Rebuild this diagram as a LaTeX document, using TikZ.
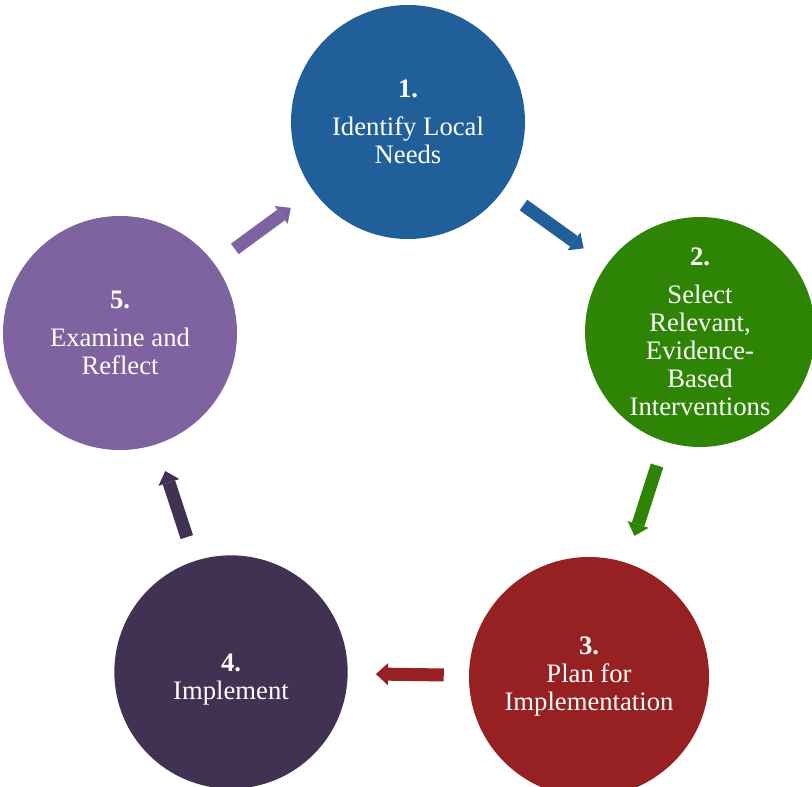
\documentclass[tikz,border=0pt]{standalone}
\usepackage{fontspec}
\setmainfont{Liberation Serif}
\usetikzlibrary{arrows.meta}
\definecolor{needsblue}{HTML}{215F9A}
\definecolor{selectgreen}{HTML}{2E8505}
\definecolor{planred}{HTML}{962022}
\definecolor{implpurple}{HTML}{413152}
\definecolor{reflectlilac}{HTML}{7F63A1}
\begin{document}
\begin{tikzpicture}[x=0.75pt,y=-0.75pt,
  stage/.style={circle, inner sep=0pt, text=white, align=center,
    font=\fontsize{20}{21}\selectfont},
  flow/.style={line width=9.75pt, shorten <=18.75pt, shorten >=21pt,
    -{Triangle[length=9pt,width=16.5pt,line width=0pt]}}]
\useasboundingbox (0,0) rectangle (812,787);
\clip (0,0) rectangle (812,787);
\node[stage, fill=needsblue, minimum size=175.5pt] (1) at (408,122) {\textbf{1.}\\[7.5pt]Identify Local\\Needs};
\node[stage, fill=selectgreen, minimum size=172.5pt] (2) at (700,332) {\textbf{2.}\\[7.5pt]Select\\Relevant,\\Evidence-\\Based\\Interventions};
\node[stage, fill=planred, minimum size=180pt] (3) at (589,677) {\textbf{3.}\\Plan for\\Implementation};
\node[stage, fill=implpurple, minimum size=175pt] (4) at (231,672) {\rule{0pt}{25pt}\textbf{4.}\\Implement};
\node[stage, fill=reflectlilac, minimum size=175.5pt] (5) at (120,333) {\textbf{5.}\\[7.5pt]Examine and\\Reflect};

\path[draw,flow,needsblue] (1) -- (2);
\path[draw,flow,selectgreen] (2) -- (3);
\path[draw,flow,planred] (3) -- (4);
\path[draw,flow,implpurple] (4) -- (5);
\path[draw,flow,reflectlilac] (5) -- (1);
\end{tikzpicture}
\end{document}
